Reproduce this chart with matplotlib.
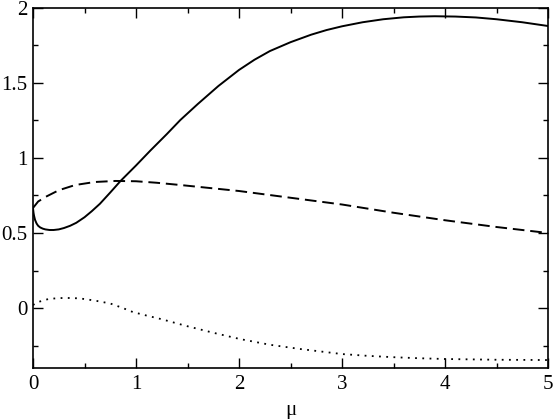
import matplotlib.pyplot as plt
from matplotlib.ticker import MultipleLocator

# кривые
mu_solid = [0, 0.005, 0.01, 0.02, 0.035, 0.05, 0.07, 0.095, 0.12, 0.16, 0.2,
            0.25, 0.3, 0.36, 0.42, 0.5, 0.57, 0.65, 0.75, 0.85, 1.0, 1.14,
            1.3, 1.43, 1.6, 1.8, 2.0, 2.15, 2.3, 2.5, 2.7, 2.85, 3.0, 3.2,
            3.4, 3.6, 3.75, 3.9, 4.1, 4.3, 4.5, 4.75, 5.0]
y_solid = [0.665, 0.635, 0.615, 0.587, 0.563, 0.548, 0.537, 0.529, 0.524,
           0.52, 0.52, 0.524, 0.533, 0.548, 0.568, 0.605, 0.645, 0.695,
           0.77, 0.847, 0.95, 1.05, 1.16, 1.253, 1.36, 1.48, 1.587, 1.655,
           1.713, 1.772, 1.822, 1.853, 1.878, 1.905, 1.925, 1.938, 1.943,
           1.945, 1.943, 1.937, 1.925, 1.905, 1.88]

mu_dash = [0, 0.05, 0.12, 0.25, 0.41, 0.6, 0.8, 1.0, 1.2, 1.43, 2.0, 2.5,
           3.0, 3.5, 4.0, 4.5, 5.0]
y_dash = [0.667, 0.71, 0.74, 0.785, 0.82, 0.84, 0.847, 0.845, 0.835, 0.82,
          0.78, 0.735, 0.69, 0.635, 0.585, 0.54, 0.5]

mu_dot = [0, 0.05, 0.15, 0.25, 0.33, 0.42, 0.5, 0.62, 0.75, 0.86, 0.97, 1.1,
          1.25, 1.49, 1.75, 2.01, 2.3, 2.59, 3.0, 3.25, 3.5, 3.75, 4.0, 4.5,
          5.0]
y_dot = [0.02, 0.04, 0.06, 0.066, 0.067, 0.065, 0.06, 0.047, 0.03, 0.003,
         -0.027, -0.05, -0.075, -0.12, -0.165, -0.207, -0.245, -0.273,
         -0.307, -0.319, -0.328, -0.335, -0.34, -0.345, -0.347]

plt.rcParams['font.family'] = ['Liberation Serif', 'DejaVu Serif']

fig = plt.figure(figsize=(5.54, 4.19), dpi=100)
ax = fig.add_axes([33 / 554, 1 - 368 / 419, 515 / 554, 360 / 419])

ax.plot(mu_solid, y_solid, '-', color='black', lw=1.4)
ax.plot(mu_dash, y_dash, color='black', lw=1.4, linestyle=(0, (6, 3)))
ax.plot(mu_dot, y_dot, color='black', lw=1.3, linestyle=(0, (1, 3)))

ax.set_xlim(0, 5)
ax.set_ylim(-0.4, 2)
ax.xaxis.set_major_locator(MultipleLocator(1))
ax.xaxis.set_minor_locator(MultipleLocator(0.5))
ax.yaxis.set_major_locator(MultipleLocator(0.5))
ax.yaxis.set_minor_locator(MultipleLocator(0.25))
ax.tick_params(which='both', direction='in', top=True, right=True,
               labelsize=15, width=1)
ax.tick_params(which='major', length=7)
ax.tick_params(which='minor', length=3.6)
ax.tick_params(axis='x', pad=5)
ax.tick_params(axis='y', pad=4)
ax.xaxis.set_major_formatter(plt.FuncFormatter(lambda v, p: '%g' % v))
ax.yaxis.set_major_formatter(plt.FuncFormatter(lambda v, p: '%g' % v))
for s in ax.spines.values():
    s.set_linewidth(1.2)

ax.set_xlabel('μ', fontsize=15, labelpad=5)

fig.savefig('out.png', dpi=100)
